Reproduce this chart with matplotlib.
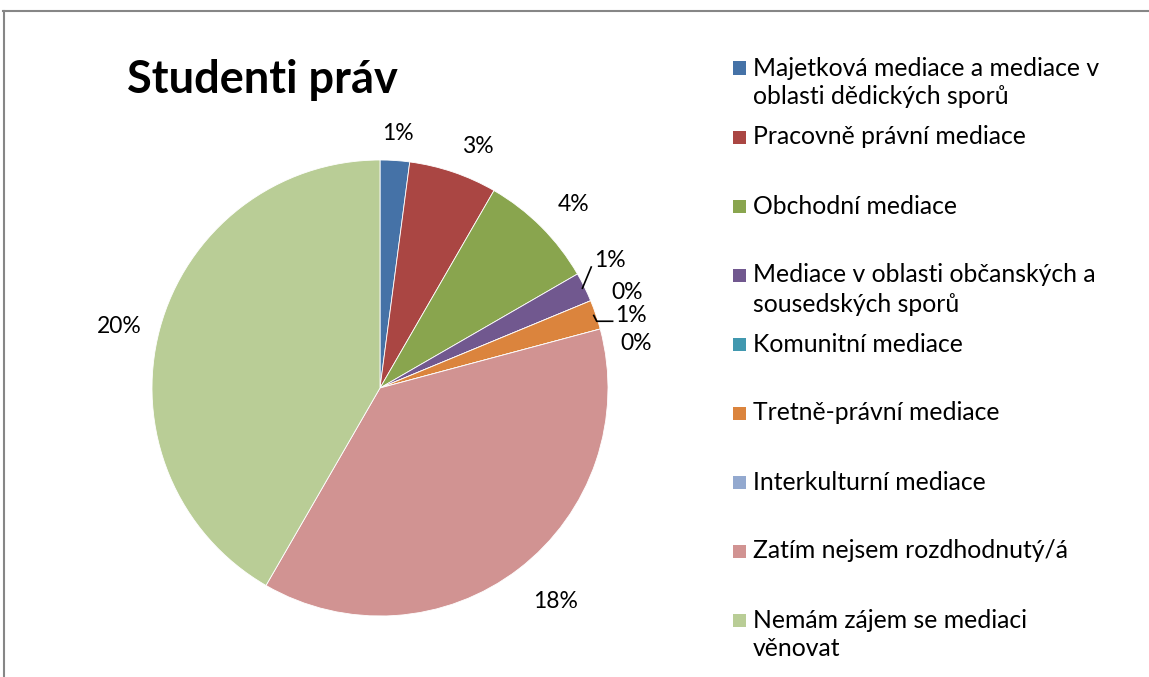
import matplotlib
matplotlib.use("Agg")
import matplotlib.pyplot as plt
import numpy as np
from matplotlib.patches import Rectangle
from matplotlib.lines import Line2D

plt.rcParams['font.family'] = ['Lato', 'DejaVu Sans']

# ---- data ----
categories = [
    "Majetková mediace a mediace v\noblasti dědických sporů",
    "Pracovně právní mediace",
    "Obchodní mediace",
    "Mediace v oblasti občanských a\nsousedských sporů",
    "Komunitní mediace",
    "Tretně-právní mediace",
    "Interkulturní mediace",
    "Zatím nejsem rozdhodnutý/á",
    "Nemám zájem se mediaci\nvěnovat",
]
values = [1, 3, 4, 1, 0, 1, 0, 18, 20]
value_labels = ["1%", "3%", "4%", "1%", "0%", "1%", "0%", "18%", "20%"]
title = "Studenti práv"
colors = ["#4572A7", "#AA4643", "#89A54E", "#71588F", "#4198AF",
          "#DB843D", "#93A9CF", "#D19392", "#B9CD96"]

W, H = 1149, 677
fig = plt.figure(figsize=(W / 100, H / 100), dpi=100)

# pie axes: center (380,388) px, radius 228 px
cx, cy, R = 380, 388, 228
ax = fig.add_axes([(cx - R) / W, (H - cy - R) / H, 2 * R / W, 2 * R / H])
wedges, texts = ax.pie(values, colors=colors, startangle=90, counterclock=False,
                       labels=value_labels, labeldistance=1.17, radius=1,
                       wedgeprops=dict(linewidth=0.6, edgecolor='white'),
                       textprops=dict(fontsize=16.5, color='black'))
ax.set_xlim(-1, 1)
ax.set_ylim(-1, 1)
ax.set_aspect('equal')
ax.axis('off')

# label fine-tuning (pixel offsets, +y up)
offsets = {0: (0, -12), 1: (12, -11), 2: (5, -5), 3: (-9, 10), 4: (1, -7),
           5: (-2, -13), 6: (-2, -25), 7: (13, -2), 8: (-3, -8)}
for i, t in enumerate(texts):
    x, y = t.get_position()
    dx, dy = offsets.get(i, (0, 0))
    t.set_position((x + dx / R, y + dy / R))
    t.set_ha('center')
    t.set_va('center')

# leader lines for small slices
cum = np.cumsum([0] + values)
total = sum(values)
def edge_point(i, r=1.0):
    ang = np.deg2rad(90 - 360 * (cum[i] + values[i] / 2) / total)
    return r * np.cos(ang), r * np.sin(ang)

ex, ey = edge_point(3, 0.99)
lx, ly = texts[3].get_position()
ax.plot([ex, lx - 19 / R], [ey, ly - 7 / R], color='black', lw=1.2, clip_on=False)
ex, ey = edge_point(5, 0.99)
lx, ly = texts[5].get_position()
ax.plot([ex, ex + 3 / R, lx - 18 / R], [ey, ly - 6 / R, ly - 6 / R],
        color='black', lw=1.2, clip_on=False)

# title
fig.text(262 / W, 1 - 80 / H, title, fontsize=32.5, fontweight='bold',
         ha='center', va='center')

# legend (manual, Excel-like layout)
y0, step, line_h = 68, 69, 29
for i, (lab, col) in enumerate(zip(categories, colors)):
    yc = y0 + i * step
    fig.add_artist(Rectangle((733 / W, 1 - (yc + 6.5) / H), 13 / W, 13 / H,
                             transform=fig.transFigure, facecolor=col,
                             edgecolor='none'))
    for k, line in enumerate(lab.split("\n")):
        fig.text(753 / W, 1 - (yc + k * line_h) / H, line, fontsize=17.8,
                 ha='left', va='center')

# chart border (top and left visible)
fig.add_artist(Line2D([3 / W, 1], [1 - 11 / H, 1 - 11 / H], color='#868686',
                      lw=1.5, transform=fig.transFigure))
fig.add_artist(Line2D([4 / W, 4 / W], [1 - 11 / H, 0], color='#868686',
                      lw=1.5, transform=fig.transFigure))

fig.savefig("out.png", dpi=100, facecolor='white')
